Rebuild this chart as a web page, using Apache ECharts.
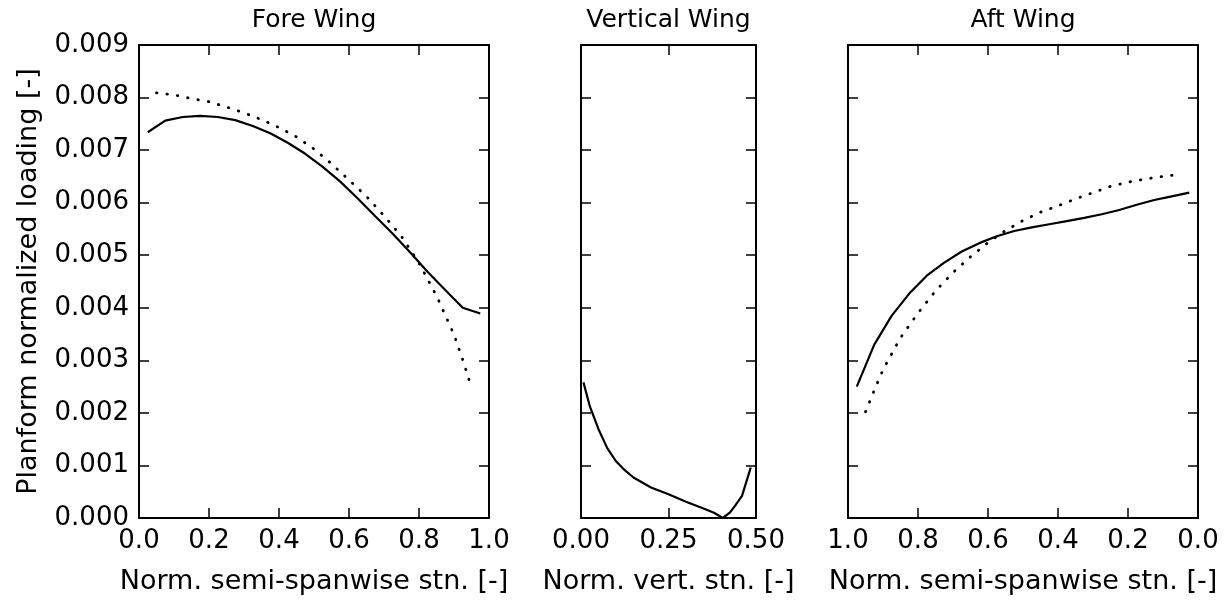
<!DOCTYPE html>
<html>
<head>
<meta charset="utf-8">
<script src="https://cdn.jsdelivr.net/npm/echarts@6/dist/echarts.min.js"></script>
<style>
html, body { margin: 0; padding: 0; background: #fff; }
#chart { width: 1228px; height: 600px; }
</style>
</head>
<body>
<div id="chart"></div>
<script>
// Panel texts
const panelTitles = ['Fore Wing', 'Vertical Wing', 'Aft Wing'];
const xAxisNames = ['Norm. semi-spanwise stn. [-]', 'Norm. vert. stn. [-]', 'Norm. semi-spanwise stn. [-]'];
const yAxisName = 'Planform normalized loading [-]';

// Fore wing: computed loading (solid) and reference distribution (dotted)
const foreSolidX = [0.025, 0.075, 0.125, 0.175, 0.225, 0.275, 0.325, 0.375, 0.425, 0.475,
                    0.525, 0.575, 0.625, 0.675, 0.725, 0.775, 0.825, 0.875, 0.925, 0.975];
const foreSolidY = [0.00734, 0.00756, 0.00763, 0.00765, 0.00763, 0.00757, 0.00746, 0.00732, 0.00714, 0.00693,
                    0.00668, 0.00640, 0.00608, 0.00574, 0.00541, 0.00505, 0.00468, 0.00434, 0.00400, 0.00389];
const foreDotX = [0.05, 0.10, 0.15, 0.20, 0.25, 0.30, 0.35, 0.40, 0.45, 0.50,
                  0.55, 0.60, 0.65, 0.70, 0.75, 0.80, 0.85, 0.90, 0.925, 0.95];
const foreDotY = [0.00809, 0.00805, 0.00798, 0.00792, 0.00782, 0.00771, 0.00758, 0.00743, 0.00725, 0.00702,
                  0.00674, 0.00643, 0.00612, 0.00575, 0.00536, 0.00485, 0.00423, 0.00349, 0.00301, 0.00248];

// Vertical wing: computed loading
const vertX = [0.007, 0.025, 0.05, 0.075, 0.10, 0.125, 0.15, 0.20, 0.25, 0.30,
               0.35, 0.38, 0.405, 0.425, 0.44, 0.46, 0.485];
const vertY = [0.00258, 0.00213, 0.00169, 0.00133, 0.00108, 0.00091, 0.00077, 0.00058, 0.00045, 0.00031,
               0.00018, 0.00010, 0.00000, 0.00010, 0.00023, 0.00042, 0.00096];

// Aft wing: computed loading (solid) and reference distribution (dotted)
const aftSolidX = [0.975, 0.925, 0.875, 0.825, 0.775, 0.725, 0.675, 0.625, 0.575, 0.525,
                   0.475, 0.425, 0.375, 0.325, 0.275, 0.225, 0.175, 0.125, 0.075, 0.025];
const aftSolidY = [0.00250, 0.00330, 0.00385, 0.00427, 0.00461, 0.00486, 0.00507, 0.00523, 0.00536, 0.00546,
                   0.00553, 0.00559, 0.00565, 0.00571, 0.00578, 0.00586, 0.00596, 0.00605, 0.00612, 0.00619];
const aftDotX = [0.95, 0.925, 0.90, 0.85, 0.80, 0.75, 0.70, 0.65, 0.60, 0.55,
                 0.50, 0.45, 0.40, 0.35, 0.30, 0.25, 0.20, 0.15, 0.10, 0.05];
const aftDotY = [0.00202, 0.00243, 0.00282, 0.00343, 0.00390, 0.00432, 0.00467, 0.00497, 0.00524, 0.00547,
                 0.00566, 0.00582, 0.00594, 0.00607, 0.00619, 0.00631, 0.00639, 0.00645, 0.00650, 0.00654];

// Axis ranges
const yMin = 0, yMax = 0.009, yStep = 0.001;
const xRanges = [
  { min: 0, max: 1, step: 0.2, digits: 1, inverse: false },
  { min: 0, max: 0.5, step: 0.25, digits: 2, inverse: false },
  { min: 0, max: 1, step: 0.2, digits: 1, inverse: true }
];

const FONT = 'DejaVu Sans';
const INK = '#000';

const grids = [
  { left: 139, top: 45, width: 350, height: 476 },
  { left: 581, top: 45, width: 175, height: 476 },
  { left: 848, top: 45, width: 350, height: 476 }
];

const zip = (xs, ys) => xs.map((x, i) => [x, ys[i]]);

const frameLine = { show: true, onZero: false, lineStyle: { color: INK, width: 2 } };
const innerTick = { show: true, inside: true, length: 10, lineStyle: { color: INK, width: 1.5 } };
const nameStyle = { color: INK, fontFamily: FONT, fontSize: 27 };

const xAxes = [];
const yAxes = [];
xRanges.forEach((r, i) => {
  const base = {
    type: 'value', gridIndex: i, min: r.min, max: r.max, interval: r.step, inverse: r.inverse,
    axisLine: frameLine, axisTick: innerTick, splitLine: { show: false }
  };
  xAxes.push(Object.assign({}, base, {
    position: 'bottom',
    axisLabel: {
      show: true, margin: 10, color: INK, fontFamily: FONT, fontSize: 26,
      formatter: v => v.toFixed(r.digits)
    },
    name: xAxisNames[i], nameLocation: 'middle', nameGap: 50,
    nameTextStyle: nameStyle
  }));
  xAxes.push(Object.assign({}, base, { position: 'top', axisLabel: { show: false } }));

  const ybase = {
    type: 'value', gridIndex: i, min: yMin, max: yMax, interval: yStep,
    axisLine: frameLine, axisTick: innerTick, splitLine: { show: false }
  };
  const left = Object.assign({}, ybase, { position: 'left', axisLabel: { show: false } });
  if (i === 0) {
    left.axisLabel = {
      show: true, margin: 10, color: INK, fontFamily: FONT, fontSize: 26,
      formatter: v => v.toFixed(3)
    };
    left.name = yAxisName;
    left.nameLocation = 'middle';
    left.nameGap = 97;
    left.nameTextStyle = nameStyle;
  }
  yAxes.push(left);
  yAxes.push(Object.assign({}, ybase, { position: 'right', axisLabel: { show: false } }));
});

const solid = { color: INK, width: 2.2, type: 'solid' };
const dotted = { color: INK, width: 2.8, type: [0.5, 10], cap: 'round' };

function line(panel, data, style) {
  return {
    type: 'line', xAxisIndex: panel * 2, yAxisIndex: panel * 2,
    data: data, symbol: 'none', showSymbol: false, smooth: false,
    lineStyle: style, itemStyle: { color: INK }, z: 3, silent: true
  };
}

const titles = panelTitles.map((t, i) => ({
  text: t,
  left: grids[i].left + grids[i].width / 2,
  top: 8,
  textAlign: 'center',
  padding: 0,
  textStyle: { color: INK, fontFamily: FONT, fontSize: 25, fontWeight: 'normal' }
}));

const chart = echarts.init(document.getElementById('chart'), null, { renderer: 'canvas' });
chart.setOption({
  animation: false,
  backgroundColor: '#fff',
  title: titles,
  grid: grids,
  xAxis: xAxes,
  yAxis: yAxes,
  series: [
    line(0, zip(foreSolidX, foreSolidY), solid),
    line(0, zip(foreDotX, foreDotY), dotted),
    line(1, zip(vertX, vertY), solid),
    line(2, zip(aftSolidX, aftSolidY), solid),
    line(2, zip(aftDotX, aftDotY), dotted)
  ]
});
</script>
</body>
</html>
